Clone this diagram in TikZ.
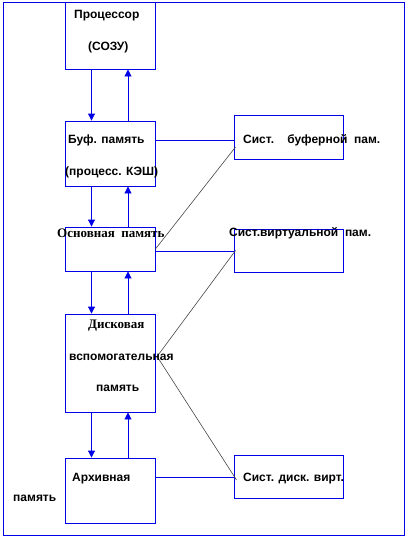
\documentclass[tikz,border=0pt]{standalone}
\usepackage{fontspec}
\setmainfont{Liberation Sans}
\newfontfamily\serifbold{Liberation Serif}
\usetikzlibrary{arrows.meta,calc}
\definecolor{bl}{RGB}{0,0,230}
\definecolor{gr}{RGB}{70,70,70}
\tikzset{
  blk/.style={draw=bl,line width=0.9pt,inner sep=0pt,rectangle},
  arr/.style={draw=bl,line width=0.9pt,-{Triangle[width=7pt,length=7pt]}},
  conn/.style={draw=bl,line width=0.9pt},
  thin/.style={draw=gr,line width=0.6pt},
  lbl/.style={inner sep=0pt,anchor=west,font=\bfseries\fontsize{12}{14}\selectfont},
  slbl/.style={inner sep=0pt,anchor=west,font=\serifbold\bfseries\fontsize{13}{15}\selectfont}
}
\begin{document}
\begin{tikzpicture}[x=1pt,y=-1pt]
\useasboundingbox (0,0) rectangle (407,539);
\node[blk,minimum width=401pt,minimum height=533pt] (frame) at (203.5,268.5) {};
\node[blk,minimum width=90pt,minimum height=67pt] (proc) at (110,35.5) {};
\node[blk,minimum width=90pt,minimum height=65pt] (buf) at (110,153.5) {};
\node[blk,minimum width=90pt,minimum height=44pt] (osn) at (110,249) {};
\node[blk,minimum width=90pt,minimum height=98pt] (disk) at (110,363) {};
\node[blk,minimum width=90pt,minimum height=65pt] (arch) at (110,490.5) {};
\node[blk,minimum width=109pt,minimum height=44pt] (sb) at (288.5,137) {};
\node[blk,minimum width=109pt,minimum height=43pt] (sv) at (288.5,250.5) {};
\node[blk,minimum width=109pt,minimum height=43pt] (sd) at (288.5,476.5) {};
% vertical arrows
\foreach \a/\b in {proc/buf,buf/osn,osn/disk,disk/arch}{
  \draw[arr] ([xshift=-18.5pt]\a.south) -- ([xshift=-18.5pt]\b.north);
  \draw[arr] ([xshift=18pt]\b.north) -- ([xshift=18pt]\a.south);
}
% blue connectors
\draw[conn] ([yshift=13.5pt]buf.east) -- ([yshift=13.5pt]buf.east -| sb.west);
\draw[conn] ([yshift=-2.5pt]osn.east) -- ([yshift=-2.5pt]osn.east -| sv.west);
\draw[conn] ([yshift=13.5pt]arch.east) -- ([yshift=13.5pt]arch.east -| sd.west);
% grey lines
\draw[thin] (osn.east) -- ($(sb.west)+(2,10)$);
\draw[thin] ($(disk.east)+(2,-7)$) -- ($(sv.west)+(2,0)$);
\draw[thin] ($(disk.east)+(2,-6)$) -- ($(sd.west)+(3,3.5)$);
% labels
\node[lbl] (t1) at (74,16) {Процессор};
\node[lbl] (t2) at (88,47) {(СОЗУ)};
\node[lbl] (t3) at (68,140) {Буф. память};
\node[lbl] (t4) at (65,172) {(процесс. КЭШ)};
\node[slbl] (t5) at (57,233) {Основная\ \ память};
\node[slbl] (t6) at (88,326) {Дисковая};
\node[lbl] (t7) at (69,357) {вспомогательная};
\node[lbl] (t8) at (96,388) {память};
\node[lbl] (t9) at (72,479) {Архивная};
\node[lbl] (t10) at (13,498) {память};
\node[lbl] (t11) at (243,140) {Сист.\ \ \ \ буферной\ \ пам.};
\node[lbl] (t12) at (229,233) {Сист.виртуальной\ \ пам.};
\node[lbl] (t13) at (243,479) {Сист. диск. вирт.};
\end{tikzpicture}
\end{document}
